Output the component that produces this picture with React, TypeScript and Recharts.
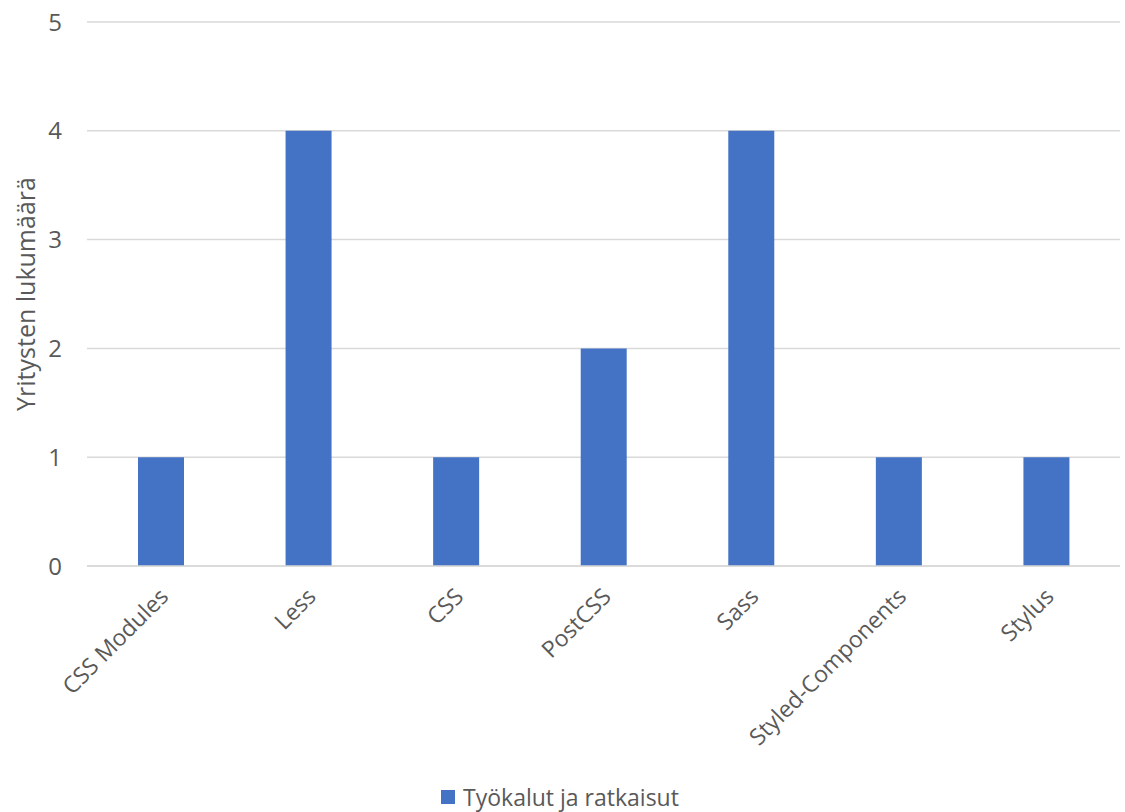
import React from 'react';
import { BarChart, Bar, XAxis, YAxis, CartesianGrid, Legend } from 'recharts';

const categories = ['CSS Modules', 'Less', 'CSS', 'PostCSS', 'Sass', 'Styled-Components', 'Stylus'];
const values = [1, 4, 1, 2, 4, 1, 1];
const yTicks = [0, 1, 2, 3, 4, 5];
const seriesName = 'Työkalut ja ratkaisut';
const yLabel = 'Yritysten lukumäärä';

const data = categories.map((c, i) => ({ name: c, value: values[i] }));

const FONT = '"Open Sans", sans-serif';
const TEXT = '#595959';

const XTick = (props: any) => {
  const { x, y, payload } = props;
  return (
    <g transform={`translate(${x + 9},${y + 24})`}>
      <text x={0} y={0} textAnchor="end" transform="rotate(-45)" fill={TEXT} fontSize={23} fontFamily={FONT}>
        {payload.value}
      </text>
    </g>
  );
};

const LegendContent = () => (
  <div style={{ height: 30, display: 'flex', alignItems: 'center', justifyContent: 'center', fontFamily: FONT, fontSize: 23, color: TEXT }}>
    <span style={{ width: 14, height: 14, background: '#4472C4', display: 'inline-block', marginRight: 8 }} />
    <span>{seriesName}</span>
  </div>
);

export default function App() {
  return (
    <div style={{ position: 'absolute', left: 0, top: 0, width: 1125, height: 812, background: '#fff' }}>
      <BarChart width={1125} height={812} data={data} margin={{ top: 22, right: 5, left: 0, bottom: 0 }}>
        <CartesianGrid vertical={false} stroke="#D9D9D9" strokeWidth={1.5} />
        <XAxis
          dataKey="name"
          height={216}
          interval={0}
          tick={<XTick />}
          tickLine={false}
          axisLine={{ stroke: '#D9D9D9', strokeWidth: 1.5 }}
        />
        <YAxis
          width={87}
          domain={[0, 5]}
          ticks={yTicks}
          tickLine={false}
          axisLine={false}
          tick={{ fill: TEXT, fontSize: 24, fontFamily: FONT }}
          tickMargin={19}
          label={{ value: yLabel, angle: -90, position: 'insideLeft', offset: 26, style: { textAnchor: 'middle', fill: TEXT, fontSize: 25, fontFamily: FONT } }}
        />
        <Legend verticalAlign="bottom" content={<LegendContent />} />
        <Bar dataKey="value" name={seriesName} fill="#4472C4" barSize={46} isAnimationActive={false} />
      </BarChart>
    </div>
  );
}
